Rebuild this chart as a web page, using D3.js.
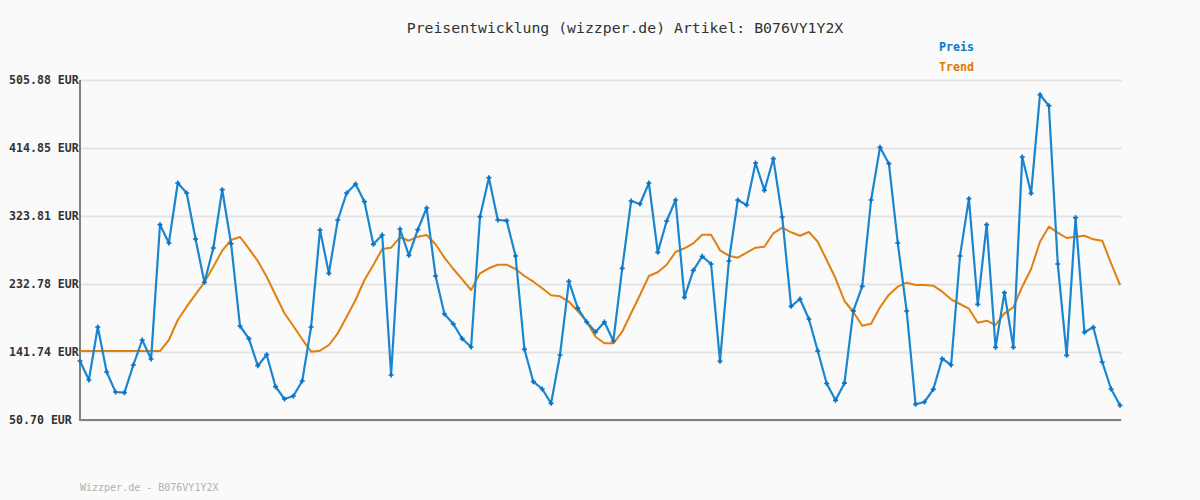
<!DOCTYPE html>
<html>
<head>
<meta charset="utf-8">
<script src="https://cdn.jsdelivr.net/npm/d3@7"></script>
<style>
  html, body { margin: 0; padding: 0; background: #fafafa; }
  svg { display: block; }
</style>
</head>
<body>
<svg id="chart" width="1200" height="500"></svg>
<script>
const titleText = "Preisentwicklung (wizzper.de) Artikel: B076VY1Y2X";
const footerText = "Wizzper.de - B076VY1Y2X";
const seriesNames = ["Preis", "Trend"];
const tickValues = [50.70, 141.74, 232.78, 323.81, 414.85, 505.88];
const tickLabels = ["50.70 EUR", "141.74 EUR", "232.78 EUR", "323.81 EUR", "414.85 EUR", "505.88 EUR"];

const price = [
  129.69, 104.25, 175.21, 114.96, 88.19, 87.25, 124.33, 157.80, 132.36, 312.16,
  287.66, 367.99, 354.60, 293.02, 235.05, 280.97, 359.02, 286.72, 176.54, 159.54,
  123.40, 138.12, 95.28, 78.81, 82.83, 102.91, 175.21, 305.07, 247.10, 318.45,
  354.60, 366.65, 342.95, 285.92, 298.37, 110.94, 306.40, 271.19, 305.47, 334.52,
  243.48, 192.61, 179.22, 159.54, 148.43, 322.87, 375.08, 318.45, 317.52, 270.26,
  145.35, 101.97, 92.20, 73.06, 137.72, 236.39, 200.37, 181.90, 168.51, 181.90,
  156.46, 253.79, 343.89, 339.87, 367.99, 275.21, 317.11, 345.23, 214.97, 251.11,
  269.86, 259.55, 129.29, 263.56, 345.23, 338.53, 394.76, 358.21, 400.52, 322.47,
  202.92, 212.69, 185.91, 143.07, 99.57, 77.07, 99.97, 196.89, 229.69, 345.23,
  415.78, 393.83, 287.66, 196.63, 71.72, 74.80, 91.80, 132.77, 124.33, 270.26,
  346.97, 205.60, 312.16, 148.03, 221.13, 148.03, 402.80, 354.20, 486.20, 471.47,
  259.55, 137.31, 321.53, 168.11, 174.80, 128.35, 92.20, 70.38
];

const trend = [
  143.00, 143.00, 143.00, 143.00, 143.00, 143.00, 143.00, 143.00, 143.00, 143.00,
  157.80, 184.58, 202.38, 218.98, 235.05, 255.93, 277.35, 291.68, 295.69, 280.03,
  263.56, 242.55, 218.05, 193.55, 176.54, 158.74, 142.14, 143.48, 151.11, 166.77,
  188.99, 211.35, 238.13, 258.21, 279.63, 281.37, 295.29, 290.74, 296.10, 298.37,
  285.92, 267.98, 252.85, 239.06, 224.74, 247.10, 253.79, 258.61, 258.61, 252.85,
  243.48, 235.85, 227.02, 217.64, 216.30, 209.08, 196.63, 182.30, 162.22, 153.38,
  153.38, 168.91, 193.55, 218.05, 243.48, 248.44, 258.61, 275.61, 280.57, 287.26,
  298.77, 298.77, 277.89, 270.66, 267.98, 274.68, 281.37, 282.71, 300.65, 308.14,
  301.99, 297.43, 302.39, 289.40, 264.90, 240.40, 210.01, 195.29, 176.95, 179.62,
  201.58, 218.45, 229.16, 234.51, 231.43, 231.43, 230.50, 222.46, 212.29, 206.00,
  199.70, 180.96, 183.64, 177.88, 193.55, 201.58, 229.16, 252.85, 289.40, 309.48,
  301.45, 294.36, 296.10, 297.43, 292.61, 290.74, 260.48, 231.43
];

const colors = { price: "#1a86cf", priceMark: "#0a72c2", trend: "#e08010", axis: "#808080", grid: "#e4e4e4", text: "#333333" };
const mono = "'DejaVu Sans Mono', 'Liberation Mono', monospace";

const svg = d3.select("#chart");
svg.append("rect").attr("width", 1200).attr("height", 500).attr("fill", "#fafafa");

const plotLeft = 80, plotRight = 1120, plotTop = 80, plotBottom = 420;
const x = d3.scaleLinear().domain([0, price.length - 1]).range([plotLeft, plotRight]);
const y = d3.scaleLinear().domain([tickValues[0], tickValues[tickValues.length - 1]]).range([plotBottom, plotTop]);

// grid lines
svg.append("g")
  .attr("transform", `translate(${plotLeft},0)`)
  .call(d3.axisRight(y).tickValues(tickValues).tickSize(plotRight - plotLeft + 2).tickFormat(""))
  .call(g => g.select(".domain").remove())
  .call(g => g.selectAll("line").attr("stroke", colors.grid).attr("stroke-width", 2));

// y tick labels
svg.append("g").selectAll("text")
  .data(tickValues)
  .join("text")
  .attr("x", 9)
  .attr("y", d => y(d))
  .attr("dy", "0.35em")
  .attr("font-family", mono)
  .attr("font-size", 11.6)
  .attr("font-weight", "bold")
  .attr("fill", colors.text)
  .text((d, i) => tickLabels[i]);

// axes
svg.append("line").attr("x1", plotLeft).attr("x2", plotLeft).attr("y1", plotTop).attr("y2", plotBottom + 1)
  .attr("stroke", colors.axis).attr("stroke-width", 2);
svg.append("line").attr("x1", plotLeft).attr("x2", plotRight + 1).attr("y1", plotBottom).attr("y2", plotBottom)
  .attr("stroke", colors.axis).attr("stroke-width", 2);

// trend line
const line = d3.line().x((d, i) => x(i)).y(d => y(d));
svg.append("path").datum(trend).attr("d", line)
  .attr("fill", "none").attr("stroke", colors.trend).attr("stroke-width", 2).attr("stroke-linejoin", "round");

// price line
svg.append("path").datum(price).attr("d", line)
  .attr("fill", "none").attr("stroke", colors.price).attr("stroke-width", 2.2).attr("stroke-linejoin", "round");

// price markers (small crosses)
const cross = d3.symbol().type(d3.symbolCross).size(14);
svg.append("g").selectAll("path")
  .data(price)
  .join("path")
  .attr("transform", (d, i) => `translate(${x(i)},${y(d)})`)
  .attr("d", cross)
  .attr("fill", colors.priceMark);

// title
svg.append("text")
  .attr("x", 625).attr("y", 33)
  .attr("text-anchor", "middle")
  .attr("font-family", mono)
  .attr("font-size", 14.8)
  .attr("fill", colors.text)
  .text(titleText);

// legend
svg.append("g").selectAll("text")
  .data(seriesNames)
  .join("text")
  .attr("x", 939)
  .attr("y", (d, i) => 51 + i * 20)
  .attr("font-family", mono)
  .attr("font-size", 11.6)
  .attr("font-weight", "bold")
  .attr("fill", (d, i) => i === 0 ? "#0a78c8" : "#e07800")
  .text(d => d);

// footer
svg.append("text")
  .attr("x", 80).attr("y", 491)
  .attr("font-family", mono)
  .attr("font-size", 10)
  .attr("fill", "#b0b0b0")
  .text(footerText);
</script>
</body>
</html>
